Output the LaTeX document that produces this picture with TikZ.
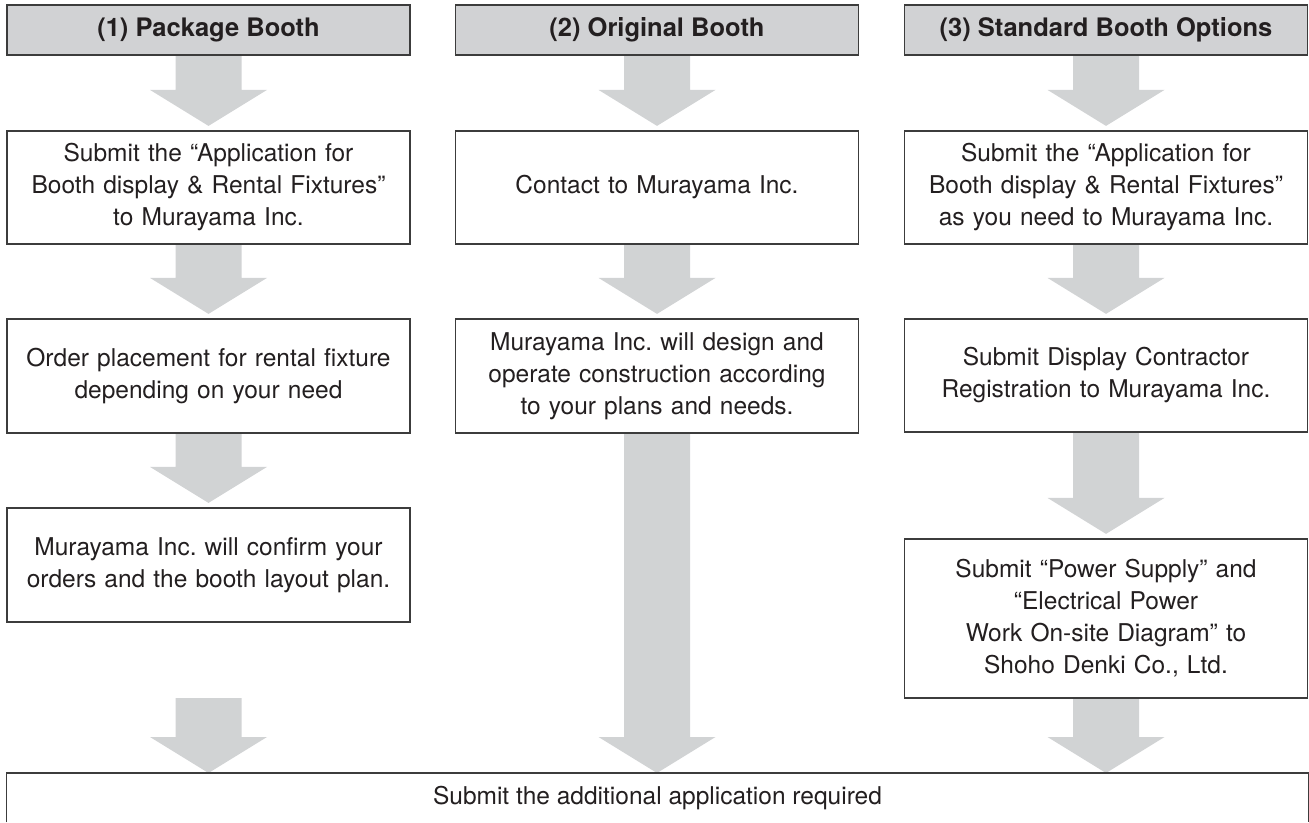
\documentclass[tikz,border=0pt]{standalone}
\usepackage{fontspec}
\setmainfont{TeX Gyre Heros}
\usetikzlibrary{calc,backgrounds}
\frenchspacing
\definecolor{hdrgray}{HTML}{D1D2D4}
\definecolor{arrgray}{HTML}{D1D3D4}
\definecolor{edgegray}{HTML}{3C3C3C}
\definecolor{txtgray}{HTML}{231F20}
\tikzset{
  hdr/.style={draw=edgegray, line width=1.4pt, fill=hdrgray, minimum width=403pt, minimum height=50pt,
    inner sep=0pt, text=txtgray, font=\fontsize{25.5}{30}\selectfont\bfseries},
  stepbox/.style={draw=edgegray, line width=1.2pt, fill=white, minimum width=403pt, inner sep=0pt,
    text width=398pt, align=center, text=txtgray, font=\fontsize{24.5}{32}\selectfont},
  finalbox/.style={fill=white, minimum width=1301pt, minimum height=49pt, inner sep=0pt,
    text=txtgray, font=\fontsize{24.5}{32}\selectfont},
  fat/.style={fill=arrgray}
}
\newcommand\fatarrow[2]{%
  \fill[fat] let \p1=(#1), \p2=(#2) in
    (\x1-33pt,\y1) -- (\x1+33pt,\y1) -- (\x1+33pt,\y2+36pt) -- (\x1+58.5pt,\y2+36pt)
    -- (\x1,\y2) -- (\x1-58.5pt,\y2+36pt) -- (\x1-33pt,\y2+36pt) -- cycle;}
\begin{document}
\begin{tikzpicture}[x=1pt,y=-1pt]
\useasboundingbox (0,0) rectangle (1309,822);
% headers
\node[hdr] (h1) at (208.5,30) {(1) Package Booth};
\node[hdr] (h2) at (657,30) {(2) Original Booth};
\node[hdr] (h3) at (1106,30) {(3) Standard Booth Options};
% column 1
\node[stepbox, minimum height=113pt] (a1) at (208.5,187.5) {Submit the “Application for\\Booth display \& Rental Fixtures”\\to Murayama Inc.};
\node[stepbox, minimum height=114pt] (a2) at (208.5,376) {Order placement for rental fixture\\depending on your need};
\node[stepbox, minimum height=114pt] (a3) at (208.5,565) {Murayama Inc. will confirm your\\orders and the booth layout plan.};
% column 2
\node[stepbox, minimum height=113pt] (b1) at (657,187.5) {Contact to Murayama Inc.};
\node[stepbox, minimum height=114pt] (b2) at (657,376) {Murayama Inc. will design and\\operate construction according\\to your plans and needs.};
% column 3
\node[stepbox, minimum height=113pt] (c1) at (1106,187.5) {Submit the “Application for\\Booth display \& Rental Fixtures”\\as you need to Murayama Inc.};
\node[stepbox, minimum height=113pt] (c2) at (1106,375.5) {Submit Display Contractor\\Registration to Murayama Inc.};
\node[stepbox, minimum height=159pt] (c3) at (1106,618.5) {Submit “Power Supply” and\\“Electrical Power\\Work On-site Diagram” to\\Shoho Denki Co., Ltd.};
% final
\node[finalbox, anchor=north] (f) at (657.5,773) {Submit the additional application required};
\draw[edgegray, line width=1.2pt] (f.south west) -- (f.north west) -- (f.north east) -- (f.south east);
\coordinate (s1) at (208.5,698);
\begin{scope}[on background layer]
\fatarrow{h1.south}{$(a1.north)+(0,-4.5)$}
\fatarrow{h2.south}{$(b1.north)+(0,-4.5)$}
\fatarrow{h3.south}{$(c1.north)+(0,-4.5)$}
\fatarrow{a1.south}{$(a2.north)+(0,-4.5)$}
\fatarrow{b1.south}{$(b2.north)+(0,-4.5)$}
\fatarrow{c1.south}{$(c2.north)+(0,-4.5)$}
\fatarrow{a2.south}{$(a3.north)+(0,-4.5)$}
\fatarrow{c2.south}{$(c3.north)+(0,-4.5)$}
\fatarrow{s1}{f.north -| s1}
\fatarrow{b2.south}{f.north -| b2.south}
\fatarrow{c3.south}{f.north -| c3.south}
\end{scope}
\end{tikzpicture}
\end{document}
